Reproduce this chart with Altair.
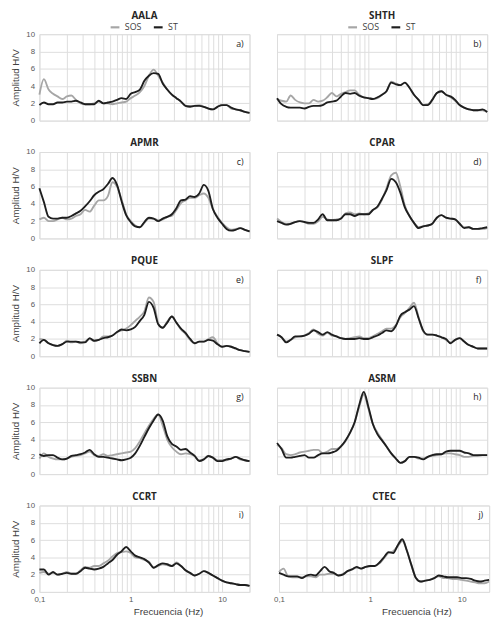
import altair as alt
import pandas as pd

FREQ = [0.1, 0.112, 0.126, 0.141, 0.158, 0.178, 0.2, 0.224, 0.251, 0.282,
        0.316, 0.355, 0.398, 0.447, 0.501, 0.562, 0.631, 0.708, 0.794, 0.891,
        1.0, 1.12, 1.26, 1.41, 1.58, 1.78, 2.0, 2.24, 2.51, 2.82,
        3.16, 3.55, 3.98, 4.47, 5.01, 5.62, 6.31, 7.08, 7.94, 8.91,
        10.0, 11.2, 12.6, 14.1, 15.8, 17.8, 20.0]

STATIONS = ["AALA", "SHTH", "APMR", "CPAR", "PQUE", "SLPF", "SSBN", "ASRM", "CCRT", "CTEC"]
LETTERS = ["a)", "b)", "c)", "d)", "e)", "f)", "g)", "h)", "i)", "j)"]
SERIES = ["SOS", "ST"]

AALA_ST = [1.8, 2.1, 1.9, 1.9, 2.1, 2.1, 2.2, 2.2, 2.3, 2.1, 1.9, 1.9, 1.9, 2.3, 2.0, 2.1, 2.2, 2.4, 2.6, 2.5,
           3.1, 3.3, 3.6, 4.6, 5.2, 5.5, 5.4, 4.3, 3.6, 3.0, 2.6, 2.2, 1.7, 1.6, 1.7, 1.7, 1.6, 1.4, 1.3, 1.6,
           1.8, 1.8, 1.5, 1.3, 1.2, 1.0, 0.9]
AALA_SOS = [3.0, 4.8, 3.6, 3.1, 2.8, 2.5, 2.8, 2.9, 2.4, 2.0, 1.9, 1.9, 2.0, 2.2, 2.0, 2.0, 1.9, 2.0, 2.1, 2.2,
            2.6, 2.9, 3.3, 4.0, 5.2, 5.9, 5.2, 4.4, 3.6, 3.0, 2.6, 2.2, 1.7, 1.7, 1.7, 1.8, 1.6, 1.4, 1.3, 1.6,
            1.8, 1.8, 1.4, 1.3, 1.2, 1.0, 0.9]

SHTH_ST = [2.6, 1.9, 1.6, 1.5, 1.5, 1.5, 1.4, 1.6, 1.7, 1.7, 1.8, 2.1, 2.2, 2.3, 2.8, 3.2, 3.1, 3.2, 2.9, 2.7,
           2.6, 2.5, 2.7, 3.0, 3.4, 4.4, 4.2, 4.1, 4.4, 3.8, 3.0, 2.4, 1.8, 1.8, 2.4, 3.2, 3.4, 3.0, 2.8, 2.4,
           1.8, 1.5, 1.3, 1.2, 1.2, 1.3, 1.0]
SHTH_SOS = [2.5, 2.3, 2.2, 2.9, 2.4, 2.1, 2.0, 2.0, 2.4, 2.2, 2.3, 2.7, 3.2, 2.8, 3.1, 3.3, 3.5, 3.5, 3.0, 2.7,
            2.6, 2.5, 2.6, 3.0, 3.4, 4.5, 4.3, 4.1, 4.4, 3.8, 3.0, 2.4, 1.8, 1.9, 2.4, 3.2, 3.4, 3.0, 2.7, 2.3,
            1.8, 1.5, 1.3, 1.2, 1.2, 1.2, 1.0]

APMR_ST = [5.8, 4.2, 2.5, 2.3, 2.3, 2.4, 2.4, 2.6, 2.9, 3.2, 3.7, 4.3, 5.0, 5.4, 5.7, 6.3, 7.0, 6.2, 4.3, 2.7,
           1.9, 1.4, 1.3, 1.9, 2.4, 2.3, 2.0, 2.3, 2.5, 2.8, 3.5, 4.4, 4.5, 4.9, 4.8, 5.2, 6.2, 5.5, 3.4, 2.4,
           1.7, 1.1, 0.9, 1.0, 1.2, 1.0, 0.8]
APMR_SOS = [2.2, 2.4, 2.0, 2.0, 2.2, 2.4, 2.2, 2.3, 2.6, 2.8, 3.3, 3.1, 3.8, 4.4, 4.4, 4.9, 6.5, 6.0, 4.5, 2.8,
            2.0, 1.5, 1.3, 1.8, 2.3, 2.3, 2.1, 2.2, 2.5, 2.6, 3.3, 4.1, 4.4, 4.7, 4.7, 5.0, 5.2, 4.7, 3.4, 2.5,
            1.8, 1.3, 1.0, 1.1, 1.2, 1.0, 0.8]

CPAR_ST = [2.0, 1.8, 1.6, 1.7, 1.9, 2.0, 1.9, 1.8, 1.8, 2.2, 2.8, 2.1, 2.1, 2.1, 2.3, 2.8, 2.8, 2.6, 2.8, 2.8,
           2.8, 3.3, 3.7, 4.6, 5.6, 6.9, 6.5, 5.3, 3.6, 2.6, 1.8, 1.2, 1.4, 1.5, 1.7, 2.4, 2.7, 2.4, 2.3, 2.2,
           1.7, 1.2, 1.3, 1.1, 1.1, 1.2, 1.3]
CPAR_SOS = [2.3, 1.9, 1.7, 1.7, 1.9, 2.0, 1.9, 1.7, 1.7, 2.0, 2.5, 2.2, 2.1, 2.2, 2.3, 2.9, 3.0, 2.8, 2.9, 2.8,
            2.9, 3.3, 3.6, 4.5, 5.8, 7.3, 7.6, 6.0, 3.8, 2.6, 1.8, 1.3, 1.4, 1.5, 1.7, 2.4, 2.7, 2.4, 2.3, 2.2,
            1.7, 1.3, 1.3, 1.1, 1.1, 1.1, 1.2]

PQUE_ST = [1.5, 1.9, 1.5, 1.3, 1.2, 1.4, 1.7, 1.7, 1.7, 1.6, 1.6, 2.1, 1.8, 1.9, 2.1, 2.2, 2.4, 2.8, 3.1, 3.0,
           3.1, 3.4, 4.1, 4.8, 6.3, 5.6, 3.7, 3.3, 3.9, 4.6, 3.9, 3.2, 2.7, 2.0, 1.5, 1.7, 1.7, 1.9, 1.8, 1.4,
           1.1, 1.2, 1.1, 0.9, 0.7, 0.6, 0.5]
PQUE_SOS = [2.0, 1.9, 1.5, 1.3, 1.2, 1.4, 1.8, 1.6, 1.7, 1.5, 1.7, 2.0, 1.8, 1.9, 2.3, 2.3, 2.4, 2.8, 3.0, 3.2,
            3.6, 4.1, 4.6, 5.2, 6.8, 6.3, 3.8, 3.3, 4.0, 4.6, 3.9, 3.1, 2.6, 1.9, 1.5, 1.7, 1.7, 2.0, 2.2, 1.5,
            1.1, 1.2, 1.1, 0.9, 0.7, 0.6, 0.5]

SLPF_ST = [2.5, 2.2, 1.6, 1.9, 2.3, 2.3, 2.4, 2.6, 3.0, 2.8, 2.5, 2.8, 2.5, 2.3, 2.1, 2.0, 2.0, 2.0, 2.1, 2.0,
           2.0, 2.2, 2.4, 2.7, 3.0, 2.9, 3.5, 4.7, 5.1, 5.4, 5.8, 4.4, 3.0, 2.5, 2.5, 2.4, 2.2, 2.0, 1.5, 1.9,
           2.1, 1.7, 1.3, 1.1, 0.9, 0.9, 0.9]
SLPF_SOS = [2.5, 2.2, 1.7, 1.9, 2.2, 2.3, 2.4, 2.7, 3.1, 2.6, 2.4, 2.7, 2.4, 2.3, 2.1, 2.0, 2.1, 2.2, 2.3, 2.1,
            2.1, 2.3, 2.6, 2.9, 3.2, 3.2, 3.6, 4.5, 5.0, 5.6, 6.2, 4.5, 2.9, 2.5, 2.5, 2.4, 2.2, 1.9, 1.6, 1.9,
            2.1, 1.7, 1.3, 1.1, 0.9, 0.9, 0.9]

SSBN_ST = [2.3, 2.1, 2.2, 2.2, 1.9, 1.7, 1.8, 2.1, 2.2, 2.3, 2.5, 2.8, 2.3, 2.0, 2.0, 1.9, 1.8, 1.7, 1.6, 1.7,
           1.9, 2.4, 3.3, 4.3, 5.3, 6.2, 6.9, 6.2, 4.4, 3.5, 3.2, 2.8, 2.9, 2.5, 2.1, 1.5, 1.7, 2.1, 1.9, 1.5,
           1.5, 1.7, 1.8, 2.0, 1.8, 1.6, 1.5]
SSBN_SOS = [1.8, 2.4, 2.0, 1.8, 1.7, 1.7, 1.8, 2.0, 2.1, 2.2, 2.4, 2.6, 2.2, 2.1, 2.3, 2.1, 2.2, 2.3, 2.4, 2.5,
            2.6, 3.0, 3.8, 4.7, 5.6, 6.4, 6.9, 5.6, 4.0, 3.1, 2.6, 2.3, 2.4, 2.3, 2.1, 1.6, 1.7, 2.1, 1.9, 1.6,
            1.6, 1.6, 1.8, 2.0, 1.7, 1.6, 1.5]

ASRM_ST = [3.6, 2.9, 1.9, 1.9, 2.0, 2.1, 2.2, 1.9, 1.9, 2.2, 2.4, 2.4, 2.5, 2.7, 3.2, 3.9, 4.8, 6.0, 8.0, 9.5,
           7.8, 5.8, 4.6, 3.9, 3.2, 2.4, 1.8, 1.3, 1.5, 2.0, 2.0, 1.9, 1.7, 2.0, 2.2, 2.3, 2.3, 2.6, 2.7, 2.7,
           2.7, 2.5, 2.4, 2.2, 2.2, 2.2, 2.2]
ASRM_SOS = [3.4, 3.0, 2.3, 2.2, 2.3, 2.5, 2.6, 2.7, 2.8, 2.8, 2.4, 2.6, 2.9, 2.9, 3.2, 3.8, 4.8, 6.0, 7.8, 9.2,
            7.6, 5.8, 4.8, 4.0, 3.2, 2.4, 1.8, 1.3, 1.5, 2.0, 2.0, 1.8, 1.8, 2.0, 2.1, 2.2, 2.3, 2.4, 2.4, 2.3,
            2.2, 2.0, 2.0, 2.1, 2.1, 2.2, 2.2]

CCRT_ST = [2.6, 2.6, 2.0, 2.3, 2.0, 2.1, 2.2, 2.1, 2.1, 2.4, 2.8, 2.7, 2.6, 2.7, 2.9, 3.3, 3.7, 4.3, 4.7, 5.2,
           4.7, 4.2, 4.0, 3.8, 3.4, 2.8, 3.1, 3.3, 3.2, 3.0, 3.3, 3.0, 2.5, 2.2, 1.9, 2.1, 2.4, 2.2, 1.9, 1.6,
           1.3, 1.1, 1.0, 0.9, 0.8, 0.8, 0.7]
CCRT_SOS = [2.2, 2.3, 2.1, 2.2, 2.0, 2.1, 2.3, 2.1, 2.1, 2.5, 2.9, 2.8, 3.0, 3.0, 3.3, 3.6, 4.1, 4.5, 4.6, 4.7,
            4.5, 4.0, 3.9, 3.7, 3.5, 2.8, 3.0, 3.2, 3.1, 3.0, 3.4, 3.0, 2.5, 2.2, 1.9, 2.1, 2.4, 2.2, 1.9, 1.6,
            1.3, 1.1, 1.0, 0.9, 0.8, 0.8, 0.7]

CTEC_ST = [2.2, 2.0, 1.8, 1.8, 1.8, 1.6, 1.9, 2.0, 1.9, 2.4, 2.9, 2.4, 2.2, 1.9, 2.0, 2.4, 2.6, 2.9, 2.7, 2.9,
           3.0, 3.0, 3.4, 4.0, 4.6, 4.5, 5.4, 6.1, 4.8, 3.1, 1.6, 1.2, 1.3, 1.4, 1.6, 1.9, 1.8, 1.7, 1.7, 1.7,
           1.6, 1.6, 1.5, 1.3, 1.2, 1.3, 1.4]
CTEC_SOS = [2.3, 2.7, 1.8, 1.7, 1.7, 1.7, 1.8, 1.8, 1.7, 2.0, 2.0, 2.1, 2.1, 1.9, 2.1, 2.4, 2.6, 2.8, 2.7, 2.9,
            3.0, 3.0, 3.3, 3.9, 4.5, 4.7, 5.3, 5.9, 4.8, 3.1, 1.6, 1.2, 1.3, 1.4, 1.6, 1.8, 1.6, 1.6, 1.5, 1.5,
            1.4, 1.3, 1.2, 1.1, 1.0, 1.0, 1.2]

DATA = {
    "AALA": (AALA_SOS, AALA_ST), "SHTH": (SHTH_SOS, SHTH_ST),
    "APMR": (APMR_SOS, APMR_ST), "CPAR": (CPAR_SOS, CPAR_ST),
    "PQUE": (PQUE_SOS, PQUE_ST), "SLPF": (SLPF_SOS, SLPF_ST),
    "SSBN": (SSBN_SOS, SSBN_ST), "ASRM": (ASRM_SOS, ASRM_ST),
    "CCRT": (CCRT_SOS, CCRT_ST), "CTEC": (CTEC_SOS, CTEC_ST),
}

X_GRID = [0.1, 0.2, 0.3, 0.4, 0.5, 0.6, 0.7, 0.8, 0.9,
          1, 2, 3, 4, 5, 6, 7, 8, 9, 10, 20]
Y_TICKS = [0, 2, 4, 6, 8, 10]

FONT = "Open Sans"
W, H = 214, 88


def panel(idx):
    name = STATIONS[idx]
    letter = LETTERS[idx]
    sos, st = DATA[name]
    row, col = idx // 2, idx % 2
    left = col == 0
    bottom = row == 4
    top = row == 0

    df = pd.DataFrame({
        "f": FREQ + FREQ,
        "amp": sos + st,
        "serie": ["SOS"] * len(FREQ) + ["ST"] * len(FREQ),
    })

    x_kwargs = {}
    if bottom:
        x_kwargs = dict(title="Frecuencia (Hz)", titleX=131 if left else 140, titleAlign="center")
    else:
        x_kwargs = dict(title=None)

    x_axis = alt.Axis(
        values=X_GRID, grid=True, ticks=False, domain=False,
        labels=bottom, labelFontSize=8, labelColor="#595959", labelPadding=4,
        labelExpr="datum.value == 0.1 ? '0,1' : (datum.value == 1 ? '1' : (datum.value == 10 ? '10' : ''))",
        labelFlush=False, labelOverlap=False,
        titleFontSize=10, titleFontWeight="normal", titleColor="#404040", titlePadding=3,
        minExtent=0, **x_kwargs,
    )
    y_axis = alt.Axis(
        values=Y_TICKS, grid=True, ticks=False, domain=False,
        labels=left, labelFontSize=8, labelColor="#595959", labelPadding=5,
        title="Amplitud H/V" if left else None,
        titleFontSize=10, titleFontWeight="normal", titleColor="#404040", titlePadding=5,
        minExtent=0,
    )
    legend = None
    if top:
        legend = alt.Legend(
            orient="none", legendX=W / 2 - 36, legendY=-13, direction="horizontal",
            title=None, symbolType="stroke", symbolStrokeWidth=2.2, symbolSize=80,
            labelFontSize=9, labelColor="#404040", labelFont=FONT, columnPadding=8,
        )

    lines = alt.Chart(df).mark_line(strokeWidth=1.9, interpolate="monotone").encode(
        x=alt.X("f:Q", scale=alt.Scale(type="log", domain=[0.1, 20], nice=False), axis=x_axis),
        y=alt.Y("amp:Q", scale=alt.Scale(domain=[0, 10], nice=False), axis=y_axis),
        color=alt.Color("serie:N", scale=alt.Scale(domain=SERIES, range=["#a6a6a6", "#1e1e1e"]),
                        legend=legend),
        order=alt.Order("f:Q"),
    )

    label = alt.Chart(pd.DataFrame({"t": [letter]})).mark_text(
        align="right", baseline="top", fontSize=9, font=FONT, color="#262626"
    ).encode(x=alt.value(W - 6), y=alt.value(6), text="t:N")

    if top:
        off = 0
    else:
        off = 0 if left else 4

    return alt.layer(lines, label).properties(
        width=W, height=H,
        title=alt.TitleParams(name, fontSize=10, fontWeight="bold", font=FONT, color="#262626",
                              anchor="middle", offset=off),
    )


rows = []
for r in range(5):
    rows.append(
        alt.hconcat(panel(2 * r), panel(2 * r + 1), spacing=18)
        .resolve_scale(color="independent")
        .resolve_legend(color="independent")
    )

chart = alt.vconcat(*rows, spacing=12).resolve_scale(color="independent").resolve_legend(
    color="independent"
).properties(padding={"left": 2, "top": -3, "right": 2, "bottom": 2}).configure_view(
    stroke="#d0d0d0", strokeDash=[2, 2], strokeWidth=0.8
).configure_axis(
    gridColor="#d9d9d9", gridWidth=0.8, labelFont=FONT, titleFont=FONT
).configure(background="white")

chart.save("out.html", embed_options={"renderer": "svg", "actions": False})
